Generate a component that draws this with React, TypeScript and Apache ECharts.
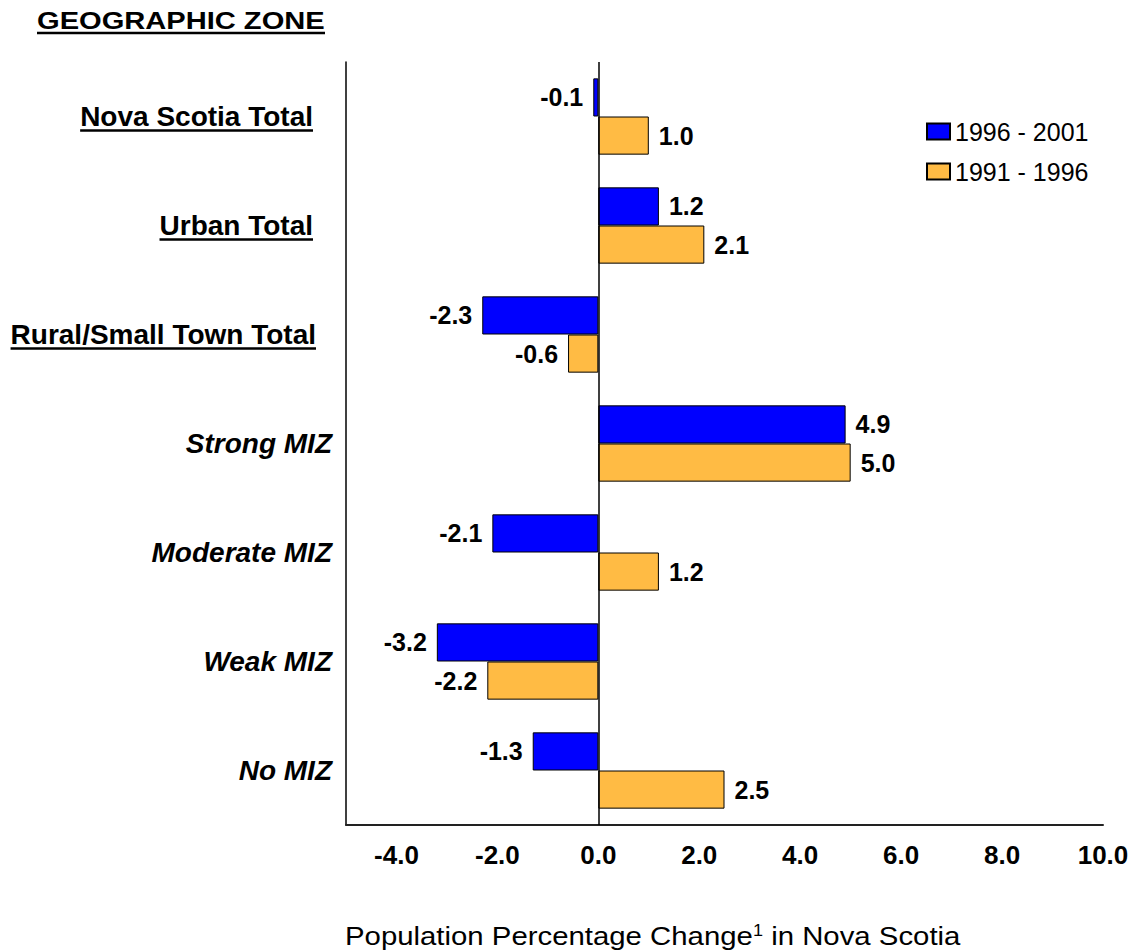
import { useEffect, useRef } from 'react';
import * as echarts from 'echarts';

const categories = [
  'Nova Scotia Total',
  'Urban Total',
  'Rural/Small Town Total',
  'Strong MIZ',
  'Moderate MIZ',
  'Weak MIZ',
  'No MIZ',
];
const underlinedCategories = ['Nova Scotia Total', 'Urban Total', 'Rural/Small Town Total'];
const change1996to2001 = [-0.1, 1.2, -2.3, 4.9, -2.1, -3.2, -1.3];
const change1991to1996 = [1.0, 2.1, -0.6, 5.0, 1.2, -2.2, 2.5];
const seriesNames = ['1996 - 2001', '1991 - 1996'];
const xTickLabels = [-4, -2, 0, 2, 4, 6, 8, 10];

const FONT = '"Liberation Sans", Arial, Helvetica, sans-serif';
const BLUE = '#0000FF';
const ORANGE = '#FFBB44';

const GRID_LEFT = 346;
const LABEL_MARGIN = 14;
const CAT_FONT_SIZE = 28;

function padFor(name: string) {
  if (name === 'Rural/Small Town Total') return 16;
  return 19;
}

function measure(text: string, font: string) {
  const c = document.createElement('canvas');
  const ctx = c.getContext('2d')!;
  ctx.font = font;
  return ctx.measureText(text).width;
}

function barData(values: number[]) {
  return values.map((v) => ({
    value: v,
    label: { position: v < 0 ? 'left' : 'right' },
  }));
}

export default function App() {
  const ref = useRef<HTMLDivElement>(null);
  useEffect(() => {
    document.body.style.margin = '0';
    const chart = echarts.init(ref.current!, null, { renderer: 'svg' });
    const rich: any = {
      i: { fontSize: CAT_FONT_SIZE, fontWeight: 'bold', fontStyle: 'italic', color: '#000', fontFamily: FONT },
    };
    underlinedCategories.forEach((name, k) => {
      rich['u' + k] = {
        fontSize: CAT_FONT_SIZE,
        fontWeight: 'bold',
        color: '#000',
        fontFamily: FONT,
        padding: [0, padFor(name), 0, 0],
      };
    });
    const barLabel = {
      show: true,
      distance: 10,
      color: '#000',
      fontSize: 25,
      fontWeight: 'bold',
      fontFamily: FONT,
      formatter: (p: any) => Number(p.value).toFixed(1),
    };
    chart.setOption({
      animation: false,
      backgroundColor: '#fff',
      grid: { left: GRID_LEFT, right: 35, top: 62, bottom: 125, containLabel: false },
      legend: {
        orient: 'vertical',
        left: 926,
        top: 119,
        padding: 0,
        itemWidth: 23,
        itemHeight: 16,
        itemGap: 15,
        icon: 'rect',
        textStyle: { fontSize: 25, color: '#000', fontFamily: FONT },
        data: seriesNames,
      },
      xAxis: {
        type: 'value',
        min: -5,
        max: 10,
        interval: 1,
        splitLine: { show: false },
        axisTick: { show: false },
        axisLine: { show: true, onZero: false, lineStyle: { color: '#222', width: 2 } },
        axisLabel: {
          margin: 17,
          fontSize: 26,
          fontWeight: 'bold',
          color: '#000',
          fontFamily: FONT,
          formatter: (v: number) => (xTickLabels.includes(v) ? v.toFixed(1) : ''),
        },
      },
      yAxis: {
        type: 'category',
        inverse: true,
        data: categories,
        axisTick: { show: false },
        axisLine: { show: true, onZero: false, lineStyle: { color: '#000', width: 1.5 } },
        axisLabel: {
          margin: LABEL_MARGIN,
          formatter: (v: string) => {
            const k = underlinedCategories.indexOf(v);
            return k >= 0 ? `{u${k}|${v}}` : `{i|${v}}`;
          },
          rich,
        },
      },
      series: [
        {
          name: seriesNames[0],
          type: 'bar',
          barGap: '0%',
          barCategoryGap: '30%',
          itemStyle: { color: BLUE, borderColor: '#000', borderWidth: 1 },
          label: barLabel,
          data: barData(change1996to2001),
          markLine: {
            silent: true,
            symbol: 'none',
            label: { show: false },
            lineStyle: { color: '#000', width: 1.5, type: 'solid' },
            data: [{ xAxis: 0 }],
          },
        },
        {
          name: seriesNames[1],
          type: 'bar',
          barGap: '0%',
          barCategoryGap: '30%',
          itemStyle: { color: ORANGE, borderColor: '#000', borderWidth: 1 },
          label: barLabel,
          data: barData(change1991to1996),
        },
      ],
    });

    const catFont = `bold ${CAT_FONT_SIZE}px ${FONT}`;
    const underlineEls = underlinedCategories.map((name) => {
      const y = chart.convertToPixel({ yAxisIndex: 0 }, name) as number;
      const w = measure(name, catFont);
      const x2 = GRID_LEFT - LABEL_MARGIN - padFor(name);
      return {
        type: 'line',
        silent: true,
        shape: { x1: x2 - w, y1: y + 14, x2: x2, y2: y + 14 },
        style: { stroke: '#000', lineWidth: 2.5 },
      };
    });
    const titleFont = `bold 24px ${FONT}`;
    const titleW = measure('GEOGRAPHIC ZONE', titleFont);
    const titleScale = 288 / titleW;
    const axisTitleFont = `26px ${FONT}`;
    const axisTitleW = measure('Population Percentage Change1 in Nova Scotia', axisTitleFont) - 6;
    const axisTitleScale = 615 / axisTitleW;
    chart.setOption({
      graphic: [
        ...underlineEls,
        {
          type: 'text',
          x: 37,
          y: 9,
          scaleX: titleScale,
          style: { text: 'GEOGRAPHIC ZONE', font: titleFont, fill: '#000' },
        },
        {
          type: 'line',
          shape: { x1: 37, y1: 33, x2: 325, y2: 33 },
          style: { stroke: '#000', lineWidth: 2.5 },
        },
        {
          type: 'text',
          x: 345,
          y: 923,
          scaleX: axisTitleScale,
          style: {
            text: 'Population Percentage Change{sup|1} in Nova Scotia',
            fill: '#000',
            fontSize: 26,
            fontFamily: FONT,
            rich: {
              sup: { fontSize: 16, fontFamily: FONT, fill: '#000', verticalAlign: 'top', padding: [0, 0, 10, 0] },
            },
          },
        },
      ],
    });
    return () => chart.dispose();
  }, []);
  return <div ref={ref} style={{ position: 'fixed', left: 0, top: 0, width: 1138, height: 950 }} />;
}
